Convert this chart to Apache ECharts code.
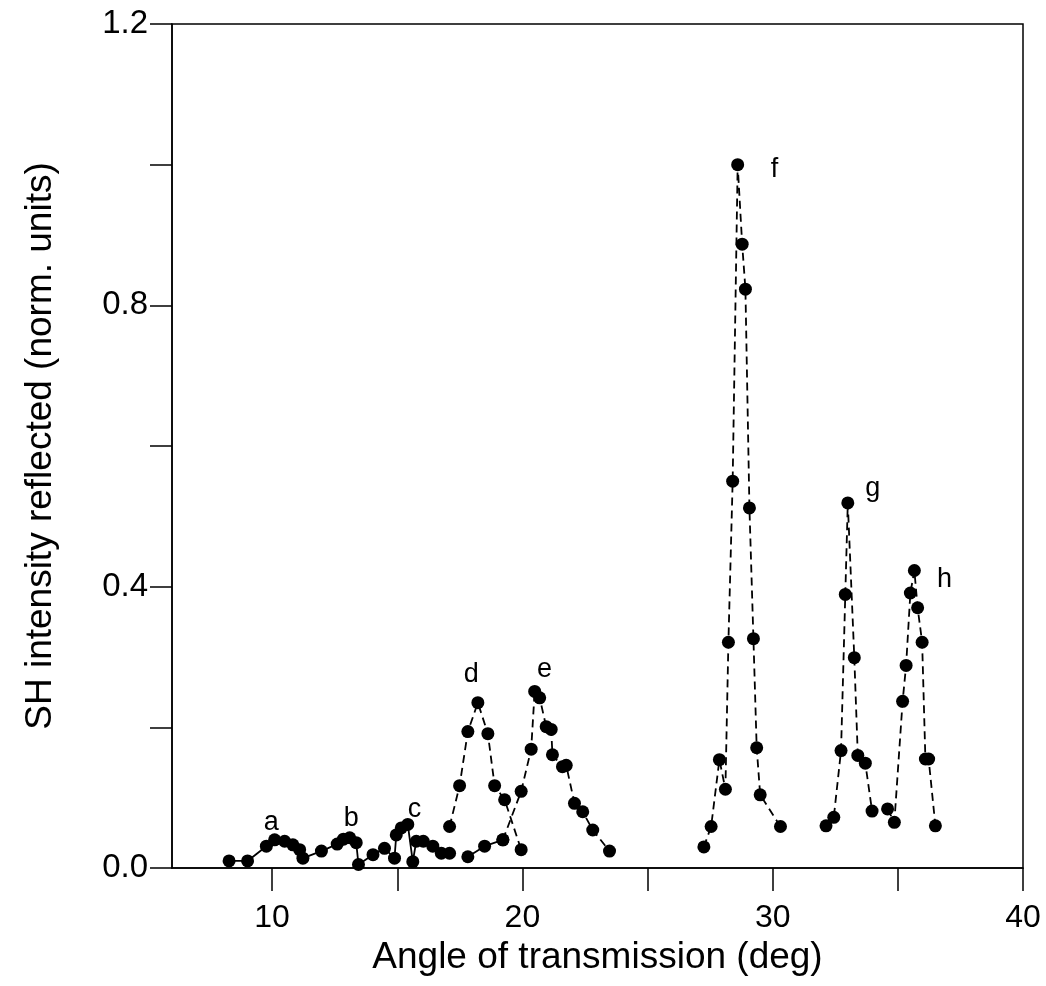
<!DOCTYPE html>
<html>
<head>
<meta charset="utf-8">
<script src="https://cdn.jsdelivr.net/npm/echarts@6/dist/echarts.min.js"></script>
<style>
html,body{margin:0;padding:0;background:#fff;}
#chart{width:1046px;height:986px;}
</style>
</head>
<body>
<div id="chart"></div>
<script>
// ---- data ----
var scanABC = [[8.28,0.010],[9.02,0.010],[9.77,0.031],[10.10,0.040],[10.50,0.038],[10.83,0.033],[11.10,0.026],[11.23,0.014],[11.97,0.024],[12.60,0.034],[12.85,0.041],[13.10,0.043],[13.36,0.036],[13.45,0.005],[14.03,0.019],[14.49,0.028],[14.89,0.014],[14.96,0.047],[15.16,0.057],[15.42,0.062],[15.62,0.009],[15.76,0.038],[16.04,0.038],[16.42,0.031],[16.76,0.021],[17.09,0.021]];
var scanLow = [[17.82,0.016],[18.49,0.031],[19.22,0.040]];
var scanD = [[17.09,0.059],[17.49,0.117],[17.82,0.194],[18.22,0.235],[18.62,0.191],[18.89,0.117],[19.29,0.097],[19.95,0.026]];
var scanE = [[19.22,0.040],[19.95,0.109],[20.35,0.169],[20.49,0.251],[20.69,0.242],[20.95,0.201],[21.15,0.197],[21.20,0.161],[21.60,0.144],[21.75,0.146],[22.08,0.092],[22.41,0.080],[22.81,0.054],[23.48,0.024]];
var scanF = [[27.25,0.030],[27.54,0.059],[27.87,0.154],[28.11,0.112],[28.23,0.321],[28.40,0.550],[28.60,1.000],[28.78,0.887],[28.91,0.823],[29.07,0.512],[29.23,0.326],[29.36,0.171],[29.50,0.104],[30.31,0.059]];
var scanG = [[32.13,0.060],[32.44,0.072],[32.73,0.167],[32.90,0.389],[33.00,0.519],[33.26,0.299],[33.40,0.160],[33.70,0.149],[33.97,0.081]];
var scanH = [[34.59,0.084],[34.86,0.065],[35.19,0.237],[35.33,0.288],[35.50,0.391],[35.66,0.423],[35.79,0.370],[35.97,0.321],[36.10,0.155],[36.23,0.155],[36.50,0.060]];
var peakLabels = [[9.97,0.064,'a'],[13.16,0.071,'b'],[15.69,0.083,'c'],[17.96,0.275,'d'],[20.88,0.282,'e'],[30.07,0.993,'f'],[34.00,0.540,'g'],[36.86,0.410,'h']];
var xTickValues = [10,15,20,25,30,35,40];
var xLabelValues = [10,20,30,40];
var yTickValues = [0,0.2,0.4,0.6,0.8,1.0,1.2];
var yLabelValues = [0,0.4,0.8,1.2];
var xTitle = 'Angle of transmission (deg)';
var yTitle = 'SH intensity reflected (norm. units)';

var FONT = 'Liberation Sans, Arial, sans-serif';
function scan(data, dashed){
  return {
    type:'line', data:data, symbol:'circle', symbolSize:13,
    itemStyle:{color:'#000', opacity:1},
    lineStyle:{color:'#000', width:1.8, type: dashed ? [8,5] : 'solid'},
    emphasis:{disabled:true}, z:3
  };
}

var chart = echarts.init(document.getElementById('chart'), null, {renderer:'canvas'});
chart.setOption({
  animation:false,
  backgroundColor:'#fff',
  grid:{left:172, top:24, right:23, bottom:118, show:true, borderColor:'#000', borderWidth:1.5, backgroundColor:'transparent'},
  xAxis:{
    type:'value', min:6, max:40,
    name:xTitle, nameLocation:'middle', nameGap:68,
    nameTextStyle:{fontFamily:FONT, fontSize:37, color:'#000'},
    axisLine:{show:true, lineStyle:{color:'#000', width:1.5}},
    axisTick:{show:true, inside:false, length:23, lineStyle:{color:'#000', width:1.5}, customValues:xTickValues},
    axisLabel:{show:true, margin:34, fontFamily:FONT, fontSize:32, color:'#000', customValues:xLabelValues},
    splitLine:{show:false}
  },
  yAxis:{
    type:'value', min:0, max:1.2,
    name:yTitle, nameLocation:'middle', nameGap:113, nameRotate:90,
    nameTextStyle:{fontFamily:FONT, fontSize:37, color:'#000'},
    axisLine:{show:true, lineStyle:{color:'#000', width:1.5}},
    axisTick:{show:true, inside:false, length:22, lineStyle:{color:'#000', width:1.5}, customValues:yTickValues},
    axisLabel:{show:true, margin:24, fontFamily:FONT, fontSize:33, color:'#000', customValues:yLabelValues,
      formatter:function(v){return v.toFixed(1);}},
    splitLine:{show:false}
  },
  series:[
    scan(scanABC,false),
    scan(scanLow,false),
    scan(scanD,true),
    scan(scanE,true),
    scan(scanF,true),
    scan(scanG,true),
    scan(scanH,true),
    {
      type:'scatter', data:peakLabels, symbolSize:0, silent:true,
      itemStyle:{opacity:1, color:'#000'},
      label:{show:true, position:'inside', color:'#000', opacity:1, fontFamily:FONT, fontSize:27,
        formatter:function(p){return p.value[2];}},
      z:4
    }
  ]
});
</script>
</body>
</html>
